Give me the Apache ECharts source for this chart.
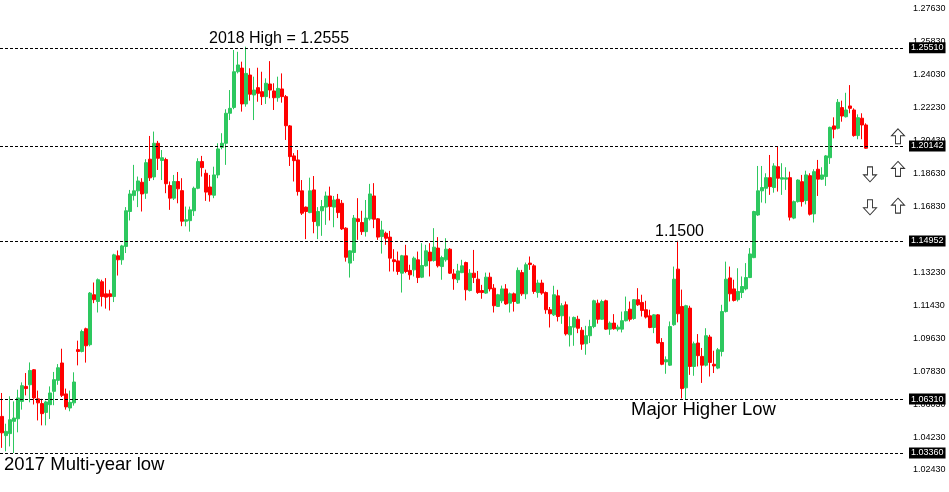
<!DOCTYPE html>
<html>
<head>
<meta charset="utf-8">
<script src="https://cdn.jsdelivr.net/npm/echarts@6/dist/echarts.min.js"></script>
<style>
html,body{margin:0;padding:0;background:#fff;}
#chart{width:949px;height:492px;}
</style>
</head>
<body>
<div id="chart"></div>
<script>
// Weekly OHLC (EUR/USD style)
var open = [1.0536,1.0431,1.0442,1.0509,1.0523,1.0618,1.0700,1.0709,1.0791,1.0632,1.0606,1.0558,1.0600,1.0673,1.0733,1.0828,1.0659,1.0582,1.0610,1.0901,
1.0891,1.1015,1.0928,1.1201,1.1164,1.1272,1.1206,1.1206,1.1191,1.1414,1.1392,1.1465,1.1656,1.1743,1.1769,1.1816,1.1756,1.1942,1.1845,1.2029,
1.1935,1.1940,1.1798,1.1729,1.1820,1.1770,1.1603,1.1606,1.1660,1.1783,1.1929,1.1865,1.1790,1.1745,1.1856,1.2007,1.2029,1.2193,1.2225,1.2420,
1.2440,1.2244,1.2402,1.2293,1.2333,1.2311,1.2284,1.2353,1.2315,1.2278,1.2326,1.2284,1.2124,1.1960,1.1938,1.1769,1.1680,1.1650,1.1774,1.1578,
1.1660,1.1680,1.1741,1.1680,1.1723,1.1701,1.1565,1.1374,1.1432,1.1616,1.1596,1.1546,1.1616,1.1741,1.1616,1.1519,1.1537,1.1516,1.1392,1.1386,
1.1319,1.1414,1.1334,1.1337,1.1392,1.1297,1.1359,1.1434,1.1388,1.1456,1.1355,1.1392,1.1450,1.1315,1.1283,1.1322,1.1377,1.1224,1.1319,1.1286,
1.1224,1.1210,1.1297,1.1237,1.1137,1.1168,1.1233,1.1155,1.1206,1.1155,1.1322,1.1206,1.1374,1.1359,1.1213,1.1265,1.1213,1.1119,1.1091,1.1195,
1.1086,1.1146,1.0982,1.1024,1.1067,1.1007,1.0933,1.0977,1.1027,1.1155,1.1067,1.1168,1.1013,1.1046,1.1013,1.1013,1.1059,1.1122,1.1071,1.1174,
1.1159,1.1119,1.1086,1.1022,1.1091,1.0940,1.0834,1.0816,1.1037,1.1341,1.1137,1.0692,1.1128,1.0809,1.0937,1.0864,1.0816,1.0970,1.0821,1.0800,
1.0891,1.1109,1.1293,1.1233,1.1174,1.1213,1.1233,1.1295,1.1404,1.1637,1.1769,1.1783,1.1841,1.1787,1.1901,1.1833,1.1833,1.1841,1.1620,1.1710,
1.1819,1.1716,1.1852,1.1643,1.1887,1.1833,1.1847,1.1950,1.2124,1.2111,1.2224,1.2174,1.2233,1.2211,1.2071,1.2166,1.2129];
var high = [1.0664,1.0496,1.0646,1.0618,1.0682,1.0722,1.0773,1.0831,1.0795,1.0677,1.0632,1.0622,1.0700,1.0779,1.0822,1.0906,1.0688,1.0677,1.0777,1.0950,
1.1010,1.1021,1.1216,1.1268,1.1290,1.1283,1.1292,1.1228,1.1425,1.1443,1.1474,1.1680,1.1774,1.1911,1.1847,1.1838,1.1942,1.2069,1.2093,1.2042,
1.1992,1.1950,1.1820,1.1856,1.1872,1.1838,1.1683,1.1683,1.1792,1.1947,1.1960,1.1885,1.1856,1.1901,1.2029,1.2084,1.2215,1.2320,1.2539,1.2529,
1.2475,1.2557,1.2439,1.2393,1.2442,1.2420,1.2384,1.2478,1.2357,1.2393,1.2411,1.2293,1.2129,1.1975,1.1992,1.1828,1.1683,1.1841,1.1850,1.1680,
1.1719,1.1765,1.1792,1.1741,1.1752,1.1719,1.1570,1.1445,1.1637,1.1729,1.1660,1.1719,1.1807,1.1811,1.1620,1.1605,1.1546,1.1550,1.1450,1.1437,
1.1419,1.1474,1.1365,1.1410,1.1437,1.1483,1.1474,1.1483,1.1565,1.1516,1.1414,1.1510,1.1456,1.1341,1.1370,1.1392,1.1382,1.1341,1.1446,1.1331,
1.1255,1.1322,1.1322,1.1259,1.1206,1.1251,1.1259,1.1213,1.1213,1.1350,1.1337,1.1377,1.1410,1.1368,1.1283,1.1283,1.1219,1.1134,1.1250,1.1228,
1.1155,1.1164,1.1082,1.1082,1.1086,1.1024,1.1031,1.1064,1.1174,1.1174,1.1174,1.1174,1.1055,1.1095,1.1037,1.1109,1.1191,1.1164,1.1177,1.1237,
1.1201,1.1168,1.1119,1.1095,1.1095,1.0964,1.0864,1.1055,1.1355,1.1496,1.1229,1.1146,1.1141,1.0945,1.0986,1.0910,1.1018,1.0982,1.0895,1.0910,
1.1146,1.1382,1.1355,1.1283,1.1346,1.1301,1.1374,1.1456,1.1660,1.1905,1.1905,1.1865,1.1965,1.1920,1.2011,1.1920,1.1898,1.1874,1.1716,1.1832,
1.1856,1.1879,1.1865,1.1887,1.1938,1.1898,1.1965,1.2120,1.2171,1.2271,1.2262,1.2305,1.2347,1.2220,1.2187,1.2193,1.2138];
var low = [1.0364,1.0345,1.0372,1.0336,1.0449,1.0573,1.0651,1.0613,1.0601,1.0514,1.0487,1.0487,1.0522,1.0597,1.0709,1.0642,1.0573,1.0564,1.0595,1.0815,
1.0886,1.0830,1.0919,1.1155,1.1104,1.1137,1.1125,1.1115,1.1161,1.1306,1.1365,1.1429,1.1607,1.1716,1.1680,1.1656,1.1725,1.1823,1.1828,1.1883,
1.1828,1.1756,1.1665,1.1719,1.1701,1.1576,1.1575,1.1546,1.1632,1.1778,1.1847,1.1714,1.1710,1.1729,1.1838,1.1996,1.1911,1.2156,1.2215,1.2411,
1.2202,1.2229,1.2262,1.2156,1.2256,1.2238,1.2244,1.2275,1.2211,1.2256,1.2251,1.2047,1.1905,1.1820,1.1743,1.1637,1.1505,1.1647,1.1537,1.1505,
1.1523,1.1583,1.1607,1.1570,1.1620,1.1555,1.1382,1.1295,1.1386,1.1501,1.1528,1.1519,1.1607,1.1565,1.1501,1.1426,1.1474,1.1328,1.1328,1.1310,
1.1213,1.1319,1.1283,1.1301,1.1265,1.1292,1.1355,1.1301,1.1382,1.1350,1.1283,1.1382,1.1315,1.1228,1.1265,1.1319,1.1170,1.1219,1.1265,1.1206,
1.1179,1.1206,1.1219,1.1104,1.1134,1.1155,1.1146,1.1104,1.1109,1.1151,1.1195,1.1177,1.1337,1.1206,1.1185,1.1201,1.1097,1.1022,1.1085,1.1055,
1.1042,1.0978,1.0918,1.0922,1.0991,1.0900,1.0873,1.0937,1.1018,1.1043,1.1064,1.1010,1.0982,1.1010,1.1001,1.0995,1.1055,1.1055,1.1064,1.1140,
1.1082,1.1071,1.1018,1.0991,1.0933,1.0816,1.0769,1.0812,1.1031,1.1050,1.0634,1.0627,1.0763,1.0758,1.0809,1.0719,1.0809,1.0754,1.0773,1.0794,
1.0864,1.1104,1.1164,1.1164,1.1164,1.1183,1.1225,1.1292,1.1401,1.1632,1.1705,1.1701,1.1747,1.1759,1.1765,1.1747,1.1774,1.1607,1.1614,1.1705,
1.1683,1.1695,1.1634,1.1596,1.1741,1.1828,1.1796,1.1916,1.2056,1.2105,1.2147,1.2170,1.2193,1.2065,1.2051,1.2051,1.1998];
var close = [1.0446,1.0454,1.0518,1.0527,1.0637,1.0704,1.0688,1.0787,1.0637,1.0610,1.0551,1.0615,1.0664,1.0737,1.0802,1.0651,1.0588,1.0613,1.0724,1.0891,
1.1000,1.0922,1.1210,1.1174,1.1283,1.1191,1.1188,1.1191,1.1419,1.1392,1.1468,1.1660,1.1752,1.1769,1.1823,1.1752,1.1923,1.1840,1.2029,1.1947,
1.1950,1.1808,1.1729,1.1820,1.1780,1.1603,1.1611,1.1665,1.1783,1.1929,1.1896,1.1762,1.1747,1.1856,1.1998,1.2029,1.2193,1.2220,1.2420,1.2457,
1.2244,1.2411,1.2297,1.2320,1.2302,1.2284,1.2357,1.2320,1.2278,1.2329,1.2284,1.2125,1.1956,1.1934,1.1765,1.1647,1.1656,1.1769,1.1601,1.1656,
1.1683,1.1741,1.1683,1.1719,1.1650,1.1561,1.1406,1.1441,1.1620,1.1601,1.1546,1.1620,1.1752,1.1614,1.1516,1.1555,1.1510,1.1401,1.1382,1.1328,
1.1414,1.1328,1.1310,1.1401,1.1295,1.1361,1.1441,1.1386,1.1461,1.1359,1.1404,1.1450,1.1319,1.1288,1.1331,1.1359,1.1228,1.1319,1.1295,1.1213,
1.1213,1.1297,1.1233,1.1141,1.1201,1.1233,1.1151,1.1206,1.1164,1.1334,1.1206,1.1365,1.1366,1.1219,1.1265,1.1210,1.1119,1.1097,1.1201,1.1082,
1.1141,1.0987,1.1027,1.1077,1.1018,1.0931,1.0977,1.1027,1.1168,1.1067,1.1164,1.1013,1.1046,1.1015,1.1024,1.1059,1.1109,1.1067,1.1174,1.1146,
1.1115,1.1079,1.1022,1.1091,1.0937,1.0821,1.0846,1.1027,1.1286,1.1097,1.0688,1.1141,1.0809,1.0933,1.0868,1.0816,1.0977,1.0831,1.0812,1.0900,
1.1109,1.1286,1.1206,1.1170,1.1219,1.1246,1.1295,1.1424,1.1656,1.1769,1.1787,1.1841,1.1792,1.1905,1.1838,1.1841,1.1840,1.1625,1.1710,1.1828,
1.1710,1.1856,1.1641,1.1874,1.1833,1.1856,1.1960,1.2116,1.2106,1.2253,1.2178,1.2211,1.2220,1.2071,1.2169,1.2129,1.2002];

// Horizontal levels with boxed labels on the price scale
var levels = [1.25510, 1.20142, 1.14952, 1.06310, 1.03360];
// Price-scale tick labels
var tickMin = 1.02430, tickMax = 1.27630, tickStep = 0.018;
// Signal arrows (week index, price)
var upArrows = [[224, 1.2067], [224, 1.1889], [224, 1.1688]];
var downArrows = [[217, 1.1859], [217, 1.1679]];
var padWeeks = 9;

var weeks = [];
for (var i = 0; i < open.length + padWeeks; i++) weeks.push('W' + i);
var ohlc = open.map(function (o, i) { return [o, close[i], low[i], high[i]]; });

var chart = echarts.init(document.getElementById('chart'), null, {renderer: 'canvas'});
var UP = 'path://M6.5,0 L13,7 L9,7 L9,15 L4,15 L4,7 L0,7 Z';
var DOWN = 'path://M4,0 L9,0 L9,8 L13,8 L6.5,15 L0,8 L4,8 Z';
var textFont = '"Liberation Sans", Arial, sans-serif';

chart.setOption({
  animation: false,
  backgroundColor: '#ffffff',
  grid: {left: 0, right: 45, top: 9, bottom: 22, containLabel: false},
  xAxis: {
    type: 'category', data: weeks, boundaryGap: true,
    axisLine: {show: false}, axisTick: {show: false}, axisLabel: {show: false}, splitLine: {show: false}
  },
  yAxis: {
    type: 'value', position: 'right', min: tickMin, max: tickMax, interval: tickStep, scale: true,
    axisLine: {show: false}, axisTick: {show: false}, splitLine: {show: false},
    axisLabel: {margin: 9, color: '#000', fontSize: 9, fontFamily: textFont,
      formatter: function (v) { return v.toFixed(5); }}
  },
  series: [{
    type: 'candlestick',
    data: ohlc,
    barWidth: 3,
    itemStyle: {color: '#2DC85F', color0: '#FF0000', borderColor: '#2DC85F', borderColor0: '#FF0000', borderWidth: 1},
    markLine: {
      silent: true, symbol: 'none', precision: 5,
      lineStyle: {color: '#000', type: [3, 2], width: 1},
      label: {position: 'end', distance: 5, color: '#fff', backgroundColor: '#000', padding: [1, 2, 1, 2],
        fontSize: 9, fontFamily: textFont, formatter: function (p) { return Number(p.value).toFixed(5); }},
      data: levels.map(function (v) { return {yAxis: v}; })
    }
  }, {
    type: 'scatter', data: upArrows, symbol: UP, symbolSize: [13, 15],
    itemStyle: {color: '#fff', borderColor: '#000', borderWidth: 1}, z: 5
  }, {
    type: 'scatter', data: downArrows, symbol: DOWN, symbolSize: [13, 15],
    itemStyle: {color: '#fff', borderColor: '#000', borderWidth: 1}, z: 5
  }],
  graphic: [
    {type: 'text', left: 209, top: 31, style: {text: '2018 High = 1.2555', font: '16px ' + textFont, fill: '#000'}},
    {type: 'text', left: 655, top: 224, style: {text: '1.1500', font: '16px ' + textFont, fill: '#000'}},
    {type: 'text', left: 631, top: 400, style: {text: 'Major Higher Low', font: '18.5px ' + textFont, fill: '#000'}},
    {type: 'text', left: 4, top: 455, style: {text: '2017 Multi-year low', font: '18.5px ' + textFont, fill: '#000'}}
  ]
});
</script>
</body>
</html>
